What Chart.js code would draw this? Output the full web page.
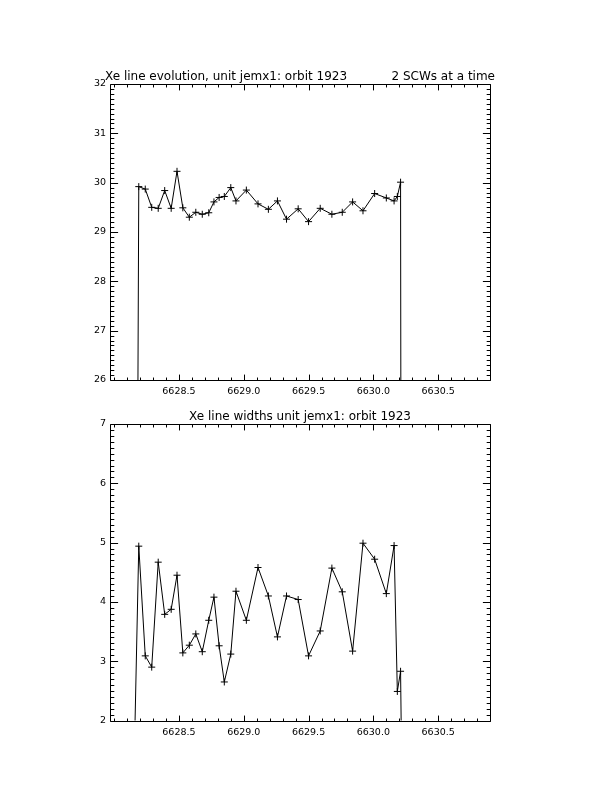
<!DOCTYPE html>
<html>
<head>
<meta charset="utf-8">
<script src="https://cdn.jsdelivr.net/npm/chart.js@4.4.0/dist/chart.umd.min.js"></script>
<style>
  html, body { margin: 0; padding: 0; background: #fff; }
  canvas { position: absolute; left: 0; top: 0; }
</style>
</head>
<body>
<canvas id="evolutionChart" width="612" height="792"></canvas>
<canvas id="widthChart" width="612" height="792"></canvas>
<script>
// energy axis (keV*1000) of each 2-SCW group
const energies = [6628.19, 6628.24, 6628.29, 6628.34, 6628.39, 6628.44, 6628.485, 6628.53, 6628.58, 6628.63,
    6628.68, 6628.73, 6628.77, 6628.81, 6628.85, 6628.90, 6628.94, 6629.02, 6629.11, 6629.19,
    6629.26, 6629.33, 6629.42, 6629.50, 6629.59, 6629.68, 6629.76, 6629.84, 6629.92, 6630.01,
    6630.10, 6630.16, 6630.185, 6630.21];
const lineEvolution = [29.92, 29.87, 29.50, 29.48, 29.84, 29.48, 30.23, 29.49, 29.30, 29.40,
    29.36, 29.39, 29.61, 29.70, 29.72, 29.90, 29.63, 29.85, 29.57, 29.46,
    29.63, 29.26, 29.47, 29.21, 29.48, 29.36, 29.40, 29.61, 29.43, 29.78,
    29.69, 29.63, 29.72, 30.01];
const lineWidths = [4.94, 3.09, 2.90, 4.67, 3.79, 3.875, 4.45, 3.14, 3.27, 3.46,
    3.16, 3.69, 4.08, 3.26, 2.65, 3.12, 4.18, 3.69, 4.58, 4.10,
    3.41, 4.10, 4.04, 3.09, 3.51, 4.57, 4.17, 3.17, 4.99, 4.72,
    4.14, 4.95, 2.49, 2.83];
// zero entries the curve starts from and falls back to
const edgeEnergies = [6628.142, 6630.225];
const edgeValue = 0;

const xTickLabels = [6628.5, 6629.0, 6629.5, 6630.0, 6630.5];
const evolutionTicks = [26, 27, 28, 29, 30, 31, 32];
const widthTicks = [2, 3, 4, 5, 6, 7];

const X_MIN = 6627.968;
const X_MAX = 6630.9;

function buildPoints(values) {
    const pts = [{ x: edgeEnergies[0], y: edgeValue }];
    energies.forEach((e, i) => pts.push({ x: e, y: values[i] }));
    pts.push({ x: edgeEnergies[1], y: edgeValue });
    return pts;
}

// IDL style box: inward major/minor ticks on all four sides + titles
const idlFrame = {
    id: "idlFrame",
    afterDraw(chart, args, opts) {
        const { ctx, chartArea: a } = chart;
        const xs = chart.scales.x;
        const ys = chart.scales.y;
        const L = Math.round(a.left) + 0.5;
        const R = Math.round(a.right) + 0.5;
        const T = Math.round(a.top) + 0.5;
        const B = Math.round(a.bottom) + 0.5;
        ctx.save();
        ctx.strokeStyle = "#000";
        ctx.lineWidth = 1;
        ctx.beginPath();
        ctx.rect(L, T, R - L, B - T);

        const xLenMaj = 0.02 * (B - T), yLenMaj = 0.02 * (R - L);
        for (let k = Math.ceil(xs.min * 10); k <= xs.max * 10; k++) {
            const v = k / 10;
            const major = xs.ticks.some(t => Math.abs(t.value - v) < 1e-6);
            const len = major ? xLenMaj : xLenMaj / 2;
            const px = Math.round(xs.getPixelForValue(v)) + 0.5;
            ctx.moveTo(px, B); ctx.lineTo(px, B - len);
            ctx.moveTo(px, T); ctx.lineTo(px, T + len);
        }
        for (let k = Math.ceil(ys.min * 10); k <= ys.max * 10; k++) {
            const v = k / 10;
            const len = k % 10 === 0 ? yLenMaj : yLenMaj / 2;
            const py = Math.round(ys.getPixelForValue(v)) + 0.5;
            ctx.moveTo(L, py); ctx.lineTo(L + len, py);
            ctx.moveTo(R, py); ctx.lineTo(R - len, py);
        }
        ctx.stroke();

        ctx.fillStyle = "#000";
        ctx.font = "12px 'DejaVu Sans'";
        ctx.textBaseline = "alphabetic";
        (opts.titles || []).forEach(t => {
            ctx.textAlign = t.align;
            ctx.fillText(t.text, t.x, a.top + t.dy);
        });
        ctx.restore();
    }
};

const tickFont = { family: "'DejaVu Sans'", size: 9.5 };

function makeChart(canvasId, values, yMin, yMax, yTicks, padding, titles) {
    const ctx = document.getElementById(canvasId).getContext("2d");
    return new Chart(ctx, {
        type: "line",
        data: {
            datasets: [
                {
                    data: buildPoints(values),
                    borderColor: "#000",
                    borderWidth: 1,
                    tension: 0,
                    fill: false,
                    pointStyle: "cross",
                    pointRadius: (c) => (c.dataIndex === 0 || c.dataIndex === energies.length + 1) ? 0 : 3.5,
                    pointBorderColor: "#000",
                    pointBorderWidth: 1,
                },
            ],
        },
        options: {
            responsive: false,
            animation: false,
            devicePixelRatio: 1,
            layout: { padding: padding },
            plugins: {
                legend: { display: false },
                tooltip: { enabled: false },
                idlFrame: { titles: titles },
            },
            scales: {
                x: {
                    type: "linear",
                    min: X_MIN,
                    max: X_MAX,
                    grid: { display: false, drawTicks: false },
                    border: { display: false },
                    afterFit: (s) => { s.height = 30; },
                    afterBuildTicks: (s) => { s.ticks = xTickLabels.map(v => ({ value: v })); },
                    ticks: {
                        color: "#000",
                        font: tickFont,
                        padding: 6,
                        maxRotation: 0,
                        autoSkip: false,
                        callback: (v) => Number(v).toFixed(1),
                    },
                },
                y: {
                    type: "linear",
                    min: yMin,
                    max: yMax,
                    grid: { display: false, drawTicks: false },
                    border: { display: false },
                    afterFit: (s) => { s.width = 110; },
                    afterBuildTicks: (s) => { s.ticks = yTicks.map(v => ({ value: v })); },
                    ticks: {
                        color: "#000",
                        font: tickFont,
                        padding: 4,
                        autoSkip: false,
                        callback: (v) => String(v),
                    },
                },
            },
        },
        plugins: [idlFrame],
    });
}

makeChart("evolutionChart", lineEvolution, 26, 32, evolutionTicks,
    { top: 84, bottom: 382, left: 0, right: 122 },
    [
        { text: "Xe line evolution, unit jemx1: orbit 1923", x: 105, dy: -4, align: "left" },
        { text: "2 SCWs at a time", x: 495, dy: -4, align: "right" },
    ]);

makeChart("widthChart", lineWidths, 2, 7, widthTicks,
    { top: 424, bottom: 41.5, left: 0, right: 122 },
    [
        { text: "Xe line widths unit jemx1: orbit 1923", x: 300, dy: -4, align: "center" },
    ]);
</script>
</body>
</html>
